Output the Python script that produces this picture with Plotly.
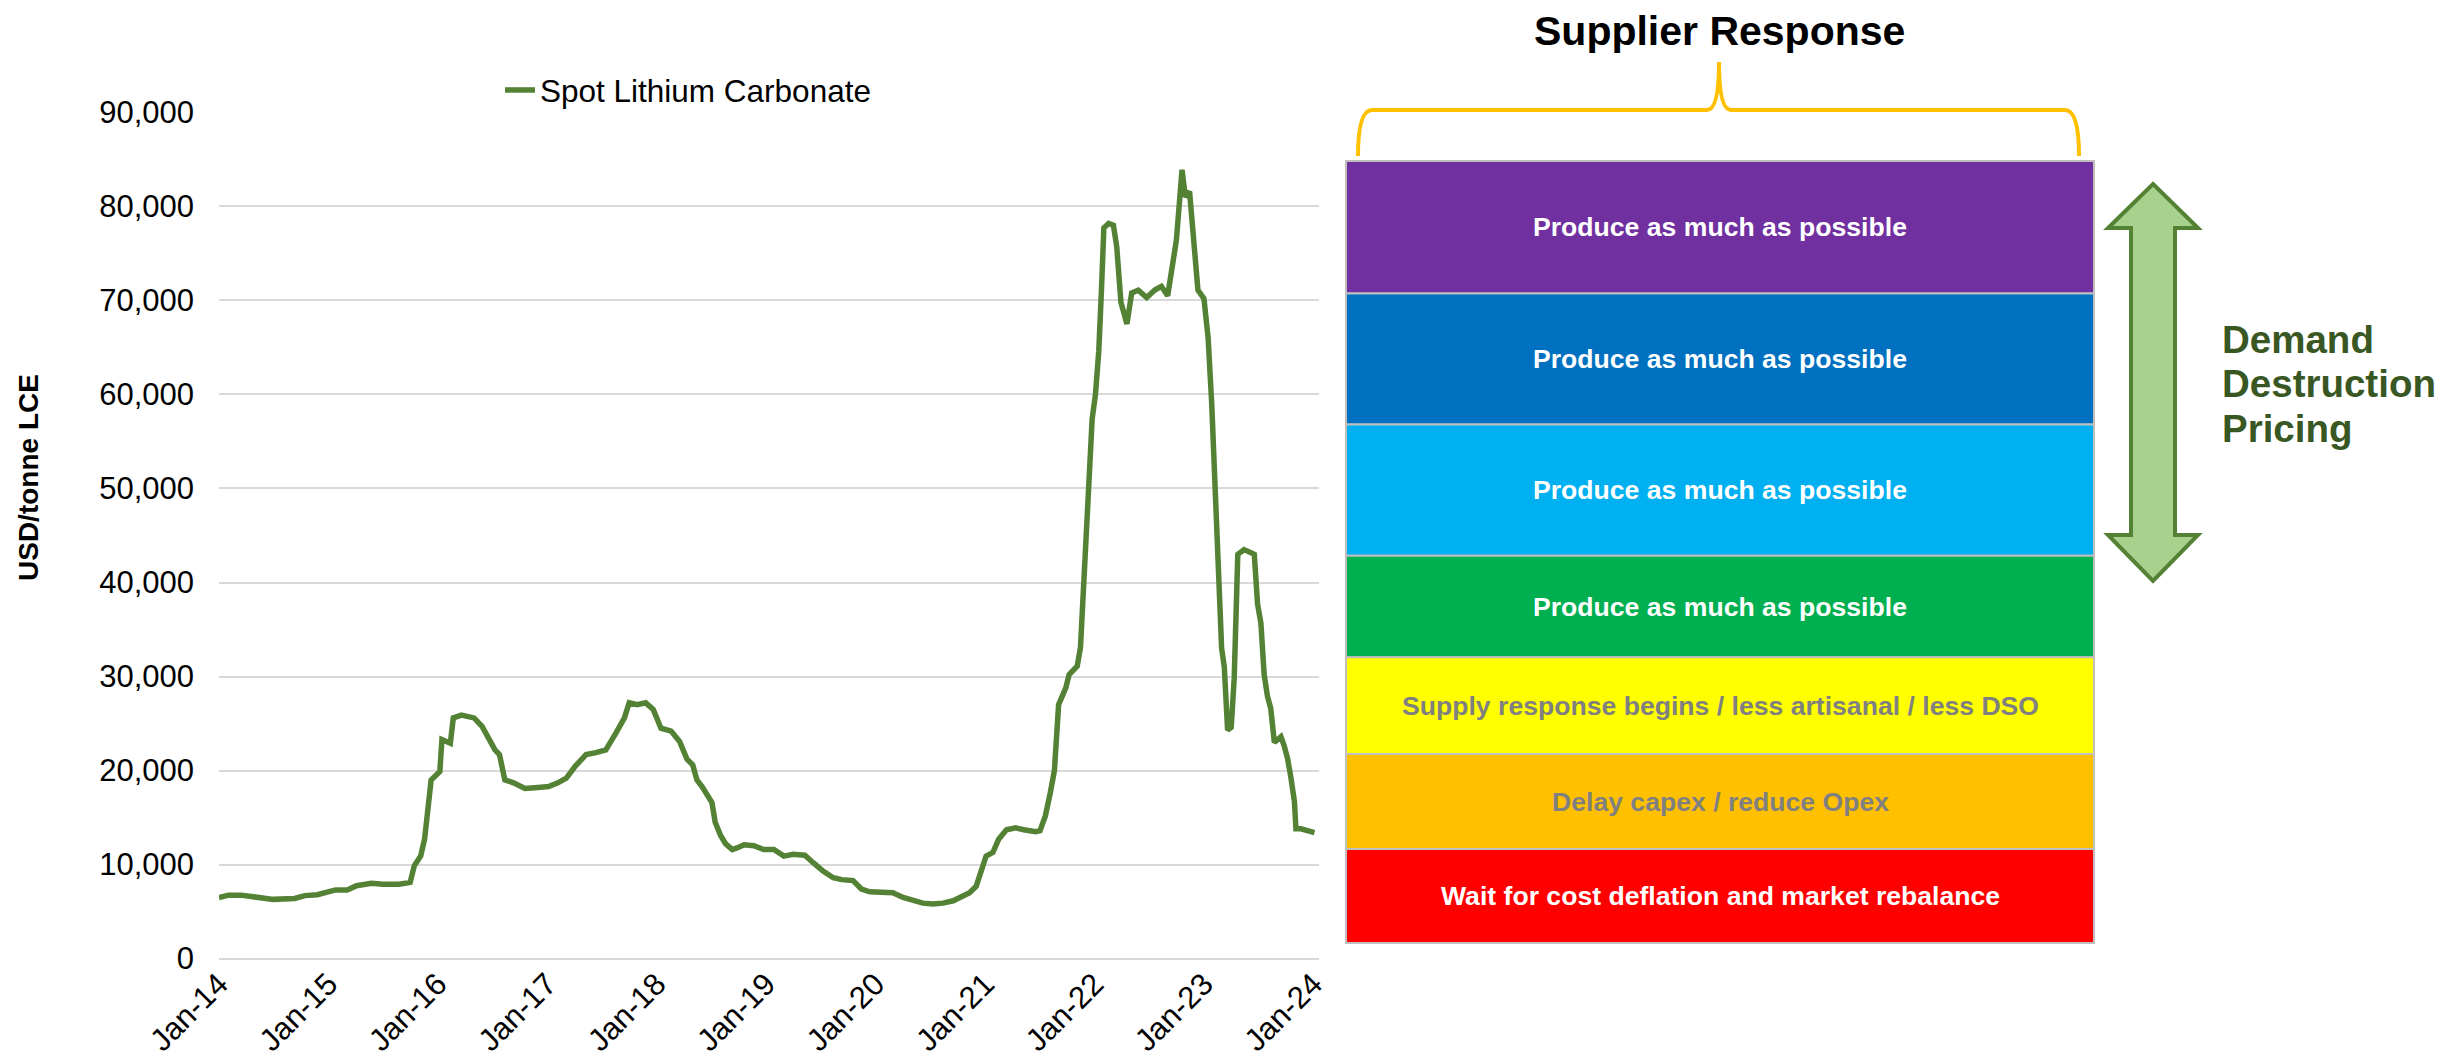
import plotly.graph_objects as go

W, H = 2448, 1060
OFF = 8  # page body margin that the browser adds around the figure
FONT = "Liberation Sans, Arial, sans-serif"

# spot lithium carbonate, USD/tonne LCE
dates = [
    "2014-01-01", "2014-02-01", "2014-03-15", "2014-05-01", "2014-07-01", "2014-09-10",
    "2014-10-15", "2014-11-25", "2015-01-01", "2015-01-25", "2015-03-05", "2015-04-05",
    "2015-05-25", "2015-07-01", "2015-08-25", "2015-10-01", "2015-10-15", "2015-11-05",
    "2015-11-18", "2015-11-28", "2015-12-10", "2016-01-08", "2016-01-15", "2016-02-12",
    "2016-02-22", "2016-03-20", "2016-05-01", "2016-05-28", "2016-06-15", "2016-07-10",
    "2016-07-25", "2016-08-12", "2016-09-10", "2016-10-18", "2016-12-01", "2017-01-05",
    "2017-02-05", "2017-03-05", "2017-04-05", "2017-05-10", "2017-06-12", "2017-07-15",
    "2017-08-18", "2017-09-15", "2017-10-01", "2017-10-28", "2017-11-25", "2017-12-20",
    "2018-01-15", "2018-02-18", "2018-03-18", "2018-04-12", "2018-05-01", "2018-05-15",
    "2018-06-01", "2018-06-18", "2018-07-04", "2018-07-15", "2018-08-02", "2018-08-19",
    "2018-09-10", "2018-09-28", "2018-10-19", "2018-11-21", "2018-12-24", "2019-01-27",
    "2019-03-01", "2019-04-01", "2019-05-10", "2019-06-07", "2019-07-10", "2019-08-13",
    "2019-09-10", "2019-10-18", "2019-11-15", "2019-12-13", "2020-01-28", "2020-02-28",
    "2020-04-02", "2020-05-04", "2020-06-07", "2020-07-10", "2020-08-13", "2020-09-16",
    "2020-10-13", "2020-11-10", "2020-12-02", "2020-12-18", "2021-01-04", "2021-01-27",
    "2021-02-15", "2021-03-13", "2021-04-13", "2021-05-10", "2021-06-18", "2021-07-03",
    "2021-07-21", "2021-08-06", "2021-08-20", "2021-09-03", "2021-09-27", "2021-10-08",
    "2021-11-04", "2021-11-15", "2021-11-26", "2021-12-02", "2021-12-13", "2021-12-24",
    "2022-01-04", "2022-01-15", "2022-01-24", "2022-02-01", "2022-02-17", "2022-03-05",
    "2022-03-16", "2022-03-30", "2022-04-19", "2022-05-05", "2022-05-27", "2022-06-24",
    "2022-07-21", "2022-08-12", "2022-09-02", "2022-09-15", "2022-10-01", "2022-10-20",
    "2022-10-31", "2022-11-14", "2022-11-28", "2022-12-12", "2023-01-01", "2023-01-15",
    "2023-01-27", "2023-02-07", "2023-02-18", "2023-03-01", "2023-03-10", "2023-03-21",
    "2023-04-02", "2023-04-12", "2023-04-24", "2023-05-15", "2023-06-18", "2023-06-29",
    "2023-07-10", "2023-07-21", "2023-08-01", "2023-08-12", "2023-08-24", "2023-09-15",
    "2023-09-26", "2023-10-07", "2023-10-18", "2023-10-30", "2023-11-04", "2023-11-21",
    "2024-01-05",
]
price = [
    6500, 6750, 6750, 6600, 6300, 6400,
    6700, 6800, 7100, 7300, 7300, 7750,
    8000, 7900, 7900, 8100, 9900, 10900,
    12700, 15200, 19000, 19900, 23300, 22900,
    25600, 25900, 25600, 24700, 23600, 22200,
    21700, 19000, 18700, 18100, 18200, 18300,
    18700, 19200, 20500, 21700, 21900, 22200,
    24000, 25600, 27200, 27000, 27200, 26500,
    24500, 24200, 23100, 21200, 20600, 19000,
    18300, 17300, 16600, 14500, 13100, 12200,
    11600, 11800, 12100, 12000, 11600, 11600,
    10900, 11100, 11000, 10200, 9300, 8600,
    8400, 8300, 7400, 7100, 7000, 7000,
    6500, 6150, 5900, 5800, 5900, 6150,
    6500, 7000, 7700, 9200, 10900, 11300,
    12700, 13700, 13900, 13700, 13500, 13600,
    15200, 17600, 20000, 27000, 28800, 30200,
    31100, 33100, 39700, 43000, 49500, 57400,
    60000, 64600, 71100, 77700, 78200, 78000,
    75700, 69800, 67500, 70800, 71100, 70300,
    71100, 71500, 70500, 73100, 76400, 83900,
    81000, 81600, 77000, 71100, 70200, 66000,
    59000, 49000, 43000, 33000, 31000, 24300,
    24600, 29800, 43000, 43500, 43000, 37700,
    35700, 30200, 27900, 26600, 23000, 23600,
    22600, 21300, 19300, 16700, 13800, 13800,
    13400,
]

series_name = "Spot Lithium Carbonate"
y_title = "USD/tonne LCE"
panel_title = "Supplier Response"
side_label = ["Demand", "Destruction", "Pricing"]

tier_text = [
    "Produce as much as possible",
    "Produce as much as possible",
    "Produce as much as possible",
    "Produce as much as possible",
    "Supply response begins / less artisanal / less DSO",
    "Delay capex / reduce Opex",
    "Wait for cost deflation and market rebalance",
]
tier_fill = ["#7030A0", "#0070C0", "#00B0F0", "#00B050", "#FFFF00", "#FFC000", "#FF0000"]
tier_font = ["#FFFFFF", "#FFFFFF", "#FFFFFF", "#FFFFFF", "#808080", "#808080", "#FFFFFF"]


def px(x):
    return (x - OFF) / W


def py(y):
    return 1 - (y - OFF) / H


fig = go.Figure()
fig.add_trace(go.Scatter(
    x=dates, y=price, mode="lines", name=series_name,
    line=dict(color="#548235", width=5.5),
))

# panel geometry in page pixels
box_l, box_r = 1346, 2094
edges = [161, 293.5, 424.6, 555.8, 657.3, 754, 849, 943]

shapes = []
annotations = []
for i, (txt, fill, fc) in enumerate(zip(tier_text, tier_fill, tier_font)):
    top, bot = edges[i], edges[i + 1]
    shapes.append(dict(
        type="rect", xref="paper", yref="paper",
        x0=px(box_l), x1=px(box_r), y0=py(bot), y1=py(top),
        fillcolor=fill, line=dict(color="#BFBFBF", width=2), layer="above",
    ))
    annotations.append(dict(
        text=f"<b>{txt}</b>", xref="paper", yref="paper",
        x=px((box_l + box_r) / 2), y=py((top + bot) / 2),
        showarrow=False, font=dict(family=FONT, size=26.6, color=fc),
        xanchor="center", yanchor="middle",
    ))

# curly brace over the panel
bl, bm, br = 1358, 1719, 2079
b_bot, b_mid, b_tip = 156, 110, 62
brace = (
    f"M {px(bl)},{py(b_bot)} Q {px(bl)},{py(b_mid)} {px(bl + 14)},{py(b_mid)} "
    f"L {px(bm - 12)},{py(b_mid)} Q {px(bm)},{py(b_mid)} {px(bm)},{py(b_tip)} "
    f"Q {px(bm)},{py(b_mid)} {px(bm + 12)},{py(b_mid)} "
    f"L {px(br - 14)},{py(b_mid)} Q {px(br)},{py(b_mid)} {px(br)},{py(b_bot)}"
)
shapes.append(dict(type="path", xref="paper", yref="paper", path=brace,
                   line=dict(color="#FFC000", width=4)))

# double-headed arrow
ax, tip_t, base_t, base_b, tip_b = 2153, 184, 228, 535, 581
hw, sw = 45, 22
pts = [
    (ax, tip_t), (ax + hw, base_t), (ax + sw, base_t), (ax + sw, base_b),
    (ax + hw, base_b), (ax, tip_b), (ax - hw, base_b), (ax - sw, base_b),
    (ax - sw, base_t), (ax - hw, base_t),
]
arrow = "M " + " L ".join(f"{px(x)},{py(y)}" for x, y in pts) + " Z"
shapes.append(dict(type="path", xref="paper", yref="paper", path=arrow,
                   fillcolor="#A9D18E", line=dict(color="#548235", width=4)))

annotations.append(dict(
    text=f"<b>{panel_title}</b>", xref="paper", yref="paper",
    x=px(bm), y=py(31), showarrow=False, xanchor="center", yanchor="middle",
    font=dict(family=FONT, size=41, color="#000000"),
))
for word, yy in zip(side_label, [340, 384, 429]):
    annotations.append(dict(
        text=f"<b>{word}</b>", xref="paper", yref="paper",
        x=px(2220), y=py(yy), showarrow=False, xanchor="left", yanchor="middle",
        font=dict(family=FONT, size=38.5, color="#385723"),
    ))
annotations.append(dict(
    text=f"<b>{y_title}</b>", xref="paper", yref="paper",
    x=px(28), y=py(478), showarrow=False, textangle=-90,
    xanchor="center", yanchor="middle",
    font=dict(family=FONT, size=28, color="#000000"),
))

fig.update_layout(
    width=W, height=H, autosize=False,
    margin=dict(l=0, r=0, t=0, b=0, autoexpand=False),
    paper_bgcolor="white", plot_bgcolor="white",
    font=dict(family=FONT, size=31, color="#000000"),
    showlegend=True,
    legend=dict(
        orientation="h", x=px(500), y=py(90), xanchor="left", yanchor="middle",
        font=dict(family=FONT, size=31.5, color="#000000"),
        bgcolor="rgba(0,0,0,0)",
    ),
    xaxis=dict(
        domain=[px(219), px(1319)], automargin=False,
        type="date", range=["2014-01-01", "2024-01-20"],
        tick0="2014-01-01", dtick="M12", tickformat="%b-%y",
        tickangle=-45, showgrid=False, showline=False, zeroline=False,
        ticks="", tickfont=dict(size=31),
    ),
    yaxis=dict(
        domain=[py(958.6), py(112.4)], automargin=False,
        range=[0, 90000], dtick=10000, tickformat=",",
        showgrid=True, gridcolor="#D9D9D9", gridwidth=2,
        zeroline=True, zerolinecolor="#D9D9D9", zerolinewidth=2,
        showline=False, ticks="", ticklabelstandoff=24,
        tickfont=dict(size=31),
    ),
    shapes=shapes,
    annotations=annotations,
)

fig.write_html("out.html")
